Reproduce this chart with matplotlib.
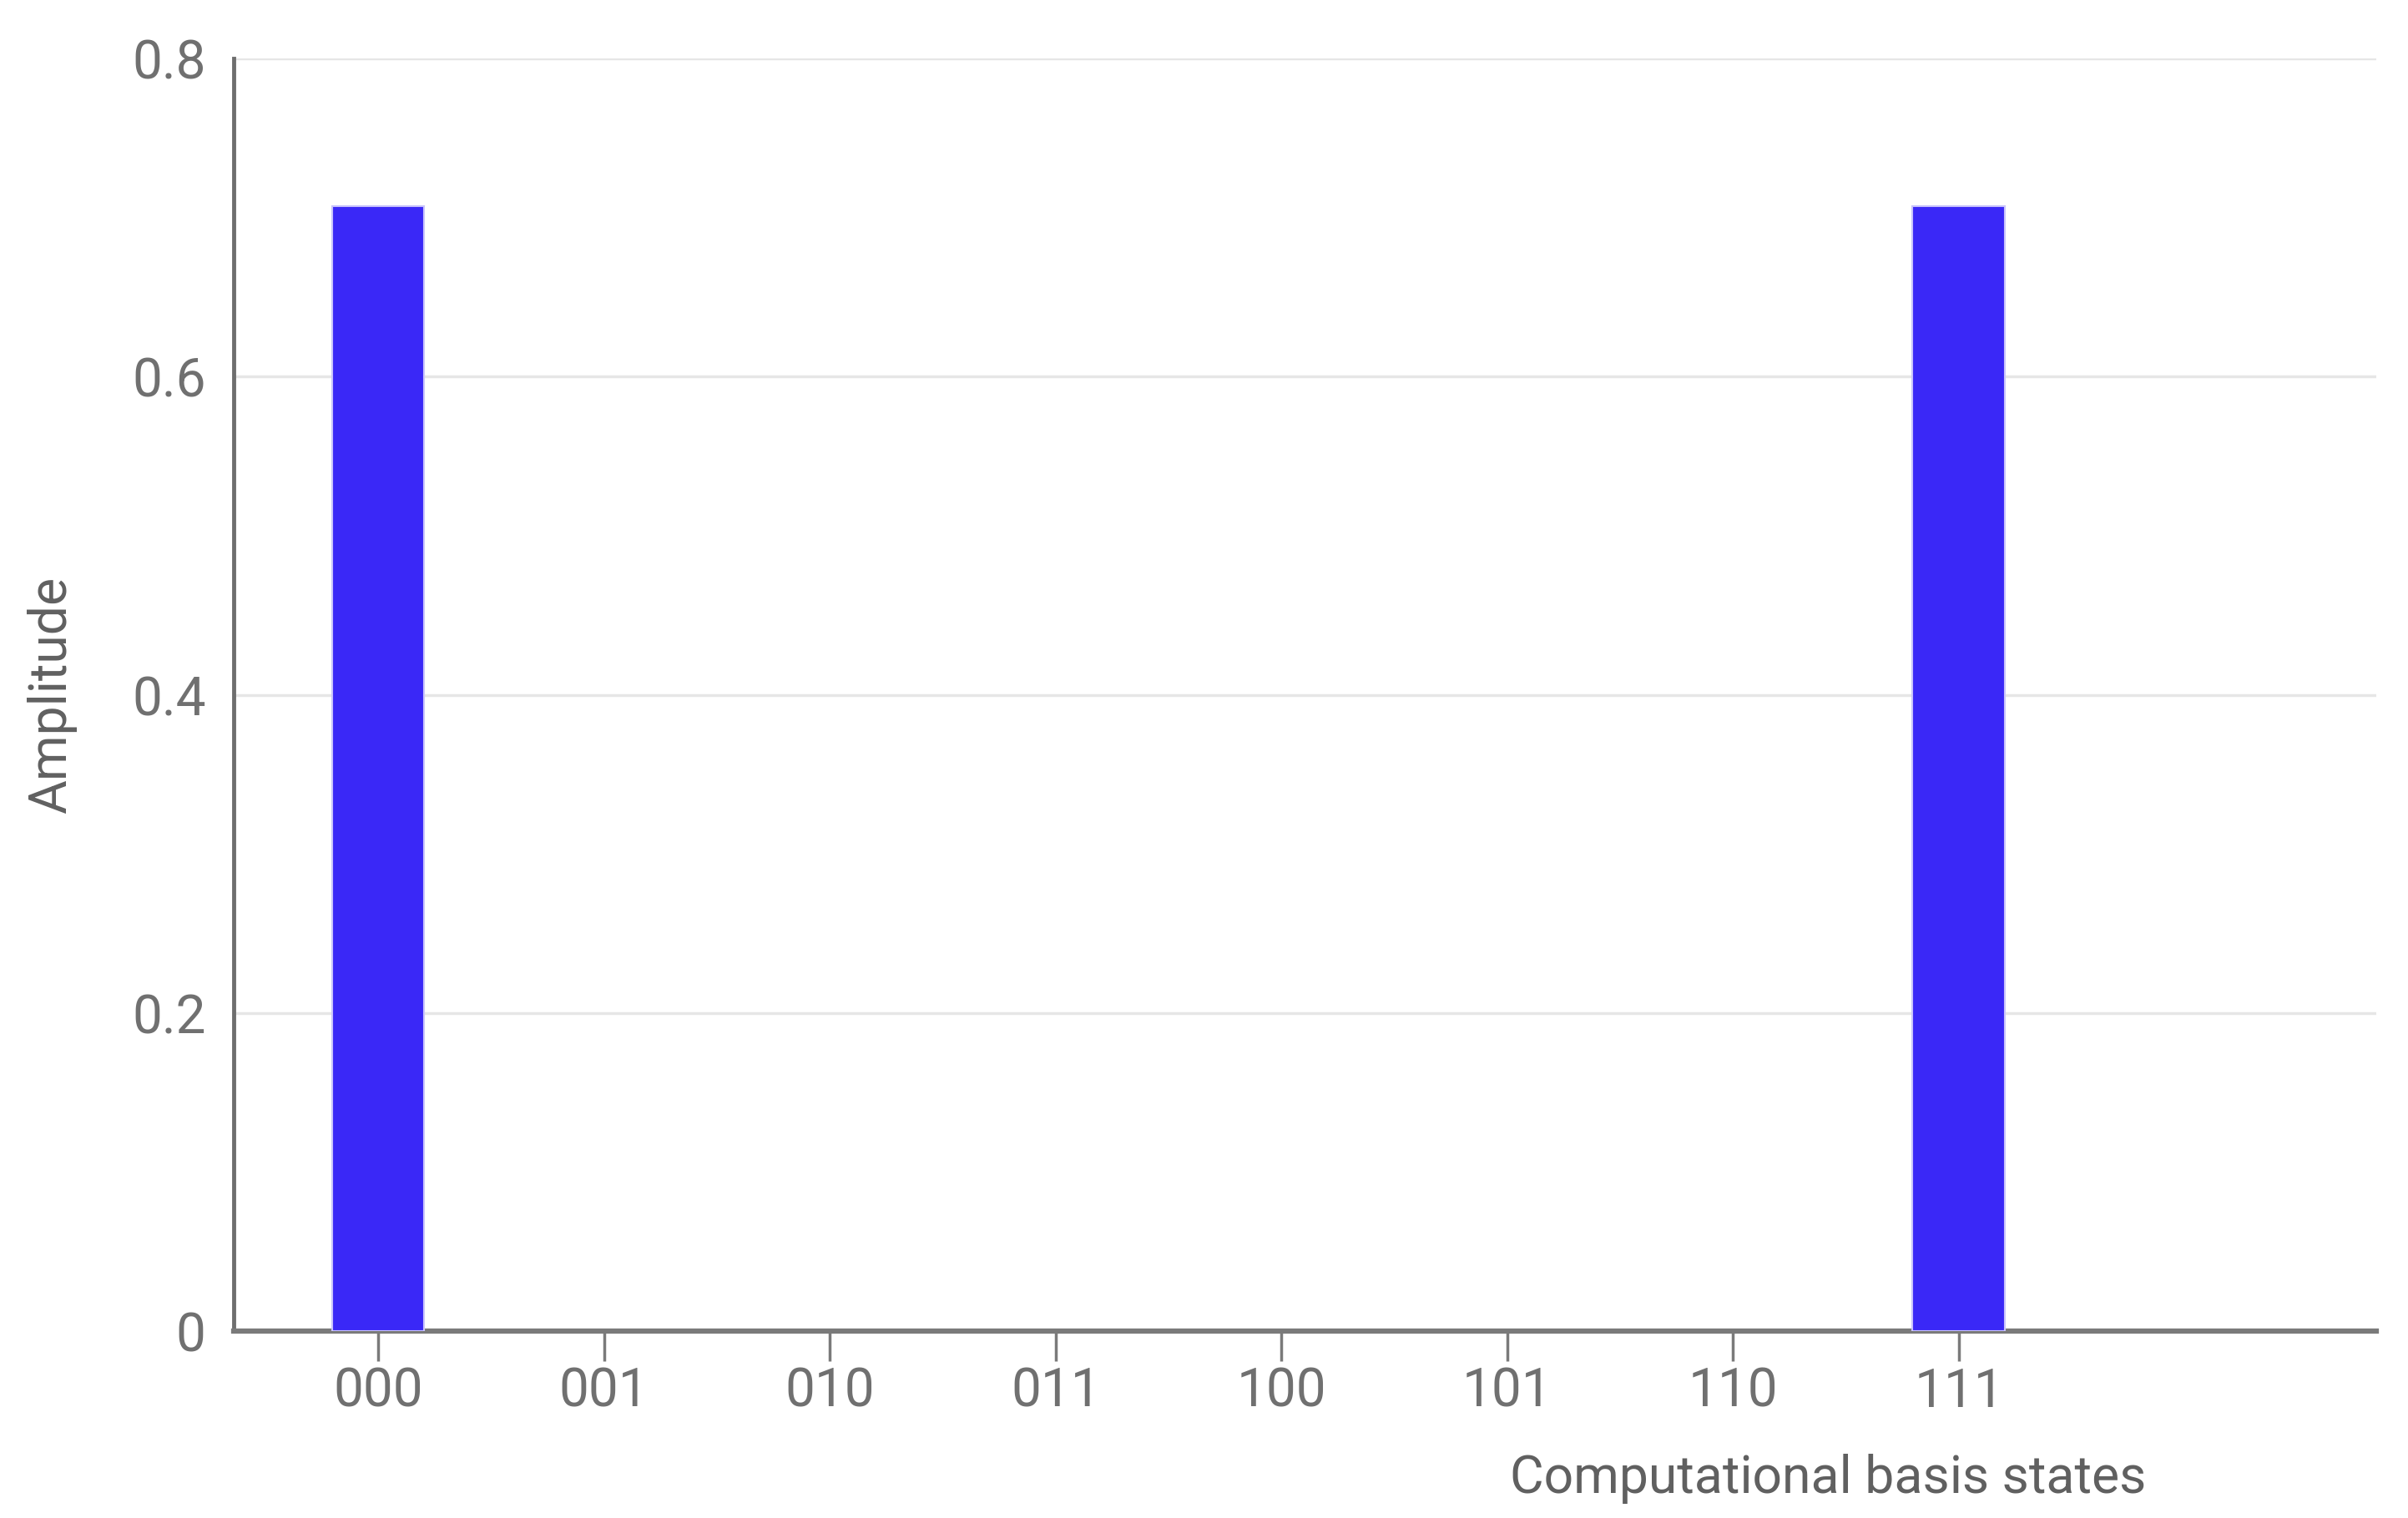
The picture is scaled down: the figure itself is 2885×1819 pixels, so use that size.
import numpy as np
from matplotlib import pyplot as plt

# dane: amplitudy stanów bazowych (stan GHZ)
states = ['000', '001', '010', '011', '100', '101', '110', '111']
amplitudes = [0.7071, 0, 0, 0, 0, 0, 0, 0.7071]
yticks = [0, 0.2, 0.4, 0.6, 0.8]
ytick_labels = ['0', '0.2', '0.4', '0.6', '0.8']

plt.rcParams['font.family'] = ['Roboto', 'DejaVu Sans']

fig = plt.figure(figsize=(28.85, 18.19), dpi=100)
ax = fig.add_axes([0.097, 0.123, 0.890, 0.8385])

x = np.arange(len(states))
widths = [1.5 if a > 0 else 0 for a in amplitudes]  # bez obwódki dla zerowych słupków
ax.bar(x, amplitudes, width=0.41, color='#3a28f7', edgecolor='#c9c4fc', linewidth=widths, zorder=3)

ax.set_xlim(-0.64, 8.85)
ax.set_ylim(0, 0.8)
ax.set_xticks(x)
ax.set_xticklabels(states)
ax.set_yticks(yticks)
ax.set_yticklabels(ytick_labels)

ax.yaxis.grid(True, color='#e6e6e6', linewidth=2.5, zorder=0)
ax.set_axisbelow(True)

for side in ['top', 'right']:
    ax.spines[side].set_visible(False)
ax.spines['left'].set_color('#6e6e6e')
ax.spines['left'].set_linewidth(3.5)
ax.spines['bottom'].set_color('#7a7a7a')
ax.spines['bottom'].set_linewidth(4.5)

ax.tick_params(axis='x', length=26, width=2.5, color='#7a7a7a', pad=4,
               labelsize=46, labelcolor='#707070')
ax.tick_params(axis='y', length=0, pad=24, labelsize=46, labelcolor='#707070')

ax.set_xlabel('Computational basis states', fontsize=45, color='#606060')
ax.xaxis.set_label_coords(0.744, -0.116)
ax.xaxis.label.set_va('center')
ax.set_ylabel('Amplitude', fontsize=45, color='#606060')
ax.yaxis.set_label_coords(-0.085, 0.5)
ax.yaxis.label.set_va('center')

plt.savefig('out.png', dpi=100)
